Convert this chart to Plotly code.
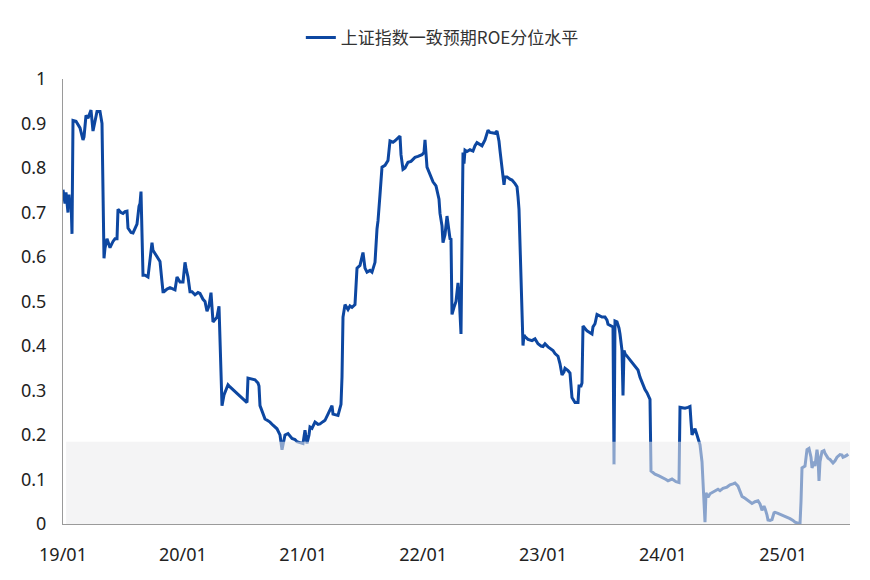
import datetime as dt
import plotly.graph_objects as go

# months elapsed since 2019-01-01
months = [
    0.0, 0.2, 0.3, 0.5, 0.6, 0.7, 0.8, 0.9, 1.0, 1.3, 1.7, 2.0, 2.1, 2.3, 2.5, 2.8, 3.0, 3.2, 3.4, 3.7,
    3.9, 4.1, 4.2, 4.4, 4.7, 5.0, 5.2, 5.4, 5.5, 5.8, 6.0, 6.2, 6.4, 6.5, 6.8, 7.0, 7.4, 7.6, 7.7, 7.8,
    7.9, 8.0, 8.2, 8.5, 8.9, 9.0, 9.2, 9.5, 9.7, 9.9, 10.0, 10.1, 10.4, 10.7, 11.0, 11.2, 11.4, 11.7, 12.0, 12.2,
    12.3, 12.5, 12.7, 12.9, 13.2, 13.5, 13.7, 14.0, 14.2, 14.4, 14.6, 14.8, 15.0, 15.2, 15.4, 15.6, 15.7, 15.9, 16.1, 16.3,
    16.5, 16.7, 17.0, 17.7, 18.4, 18.5, 18.9, 19.2, 19.5, 19.6, 19.7, 20.0, 20.2, 20.5, 20.7, 21.0, 21.4, 21.6, 21.7, 21.9,
    22.1, 22.2, 22.5, 22.9, 23.2, 23.4, 23.7, 24.0, 24.2, 24.4, 24.6, 24.7, 24.9, 25.2, 25.5, 25.7, 26.0, 26.2, 26.5, 26.7,
    26.9, 27.0, 27.3, 27.5, 27.8, 27.9, 28.0, 28.2, 28.5, 28.7, 28.9, 29.2, 29.4, 29.7, 30.0, 30.1, 30.2, 30.4, 30.7, 30.9,
    31.2, 31.4, 31.5, 31.7, 31.9, 32.2, 32.5, 32.7, 33.0, 33.2, 33.5, 33.7, 33.8, 34.0, 34.2, 34.5, 34.8, 35.2, 35.5, 35.7,
    35.9, 36.1, 36.2, 36.4, 36.7, 37.0, 37.3, 37.4, 37.6, 37.7, 37.9, 38.0, 38.2, 38.4, 38.6, 38.7, 38.8, 38.9, 39.1, 39.3,
    39.5, 39.6, 39.8, 40.0, 40.1, 40.2, 40.4, 40.7, 41.0, 41.2, 41.4, 41.7, 41.9, 42.2, 42.5, 42.7, 43.0, 43.2, 43.4, 43.6,
    43.7, 43.9, 44.1, 44.2, 44.4, 44.7, 44.9, 45.2, 45.4, 45.5, 45.6, 46.0, 46.1, 46.2, 46.5, 46.9, 47.2, 47.5, 47.8, 48.0,
    48.2, 48.5, 48.7, 49.0, 49.2, 49.5, 49.7, 49.9, 50.1, 50.2, 50.5, 50.7, 50.9, 51.2, 51.5, 51.6, 51.8, 51.9, 52.0, 52.2,
    52.4, 52.7, 52.9, 53.0, 53.2, 53.4, 53.7, 53.9, 54.2, 54.4, 54.5, 54.8, 55.0, 55.1, 55.2, 55.4, 55.6, 55.7, 55.8, 55.9,
    56.0, 56.1, 56.2, 56.5, 56.7, 57.0, 57.2, 57.5, 57.7, 57.9, 58.2, 58.4, 58.7, 58.8, 59.2, 59.6, 60.0, 60.3, 60.5, 60.9,
    61.3, 61.6, 61.7, 62.0, 62.2, 62.5, 62.7, 62.8, 62.9, 63.1, 63.2, 63.4, 63.5, 63.7, 63.9, 64.0, 64.2, 64.3, 64.5, 64.7,
    65.0, 65.2, 65.5, 65.7, 66.0, 66.4, 66.7, 67.0, 67.2, 67.5, 67.7, 67.9, 68.2, 68.5, 68.9, 69.2, 69.5, 69.7, 69.9, 70.1,
    70.2, 70.4, 70.5, 70.7, 70.9, 71.1, 71.2, 71.5, 71.7, 72.0, 72.4, 72.7, 73.0, 73.2, 73.5, 73.7, 73.8, 73.9, 74.2, 74.4,
    74.6, 74.8, 74.9, 75.1, 75.2, 75.4, 75.5, 75.6, 75.7, 75.9, 76.1, 76.2, 76.5, 76.7, 77.0, 77.2, 77.4, 77.7, 77.9, 78.0,
    78.2, 78.4, 78.5,
]

roe_pct = [
    0.751, 0.72, 0.745, 0.70, 0.74, 0.71, 0.73, 0.652, 0.907, 0.905, 0.89, 0.863, 0.87, 0.918, 0.912, 0.93, 0.883, 0.91, 0.927, 0.927,
    0.90, 0.597, 0.62, 0.641, 0.621, 0.635, 0.641, 0.641, 0.707, 0.70, 0.698, 0.702, 0.703, 0.665, 0.655, 0.654, 0.674, 0.714, 0.72, 0.747,
    0.597, 0.559, 0.559, 0.555, 0.632, 0.615, 0.608, 0.597, 0.59, 0.544, 0.522, 0.522, 0.528, 0.531, 0.528, 0.526, 0.555, 0.544, 0.544, 0.588,
    0.575, 0.555, 0.522, 0.522, 0.515, 0.52, 0.518, 0.505, 0.50, 0.478, 0.49, 0.52, 0.454, 0.46, 0.465, 0.489, 0.427, 0.266, 0.29, 0.302,
    0.313, 0.308, 0.302, 0.288, 0.273, 0.328, 0.326, 0.324, 0.317, 0.31, 0.266, 0.245, 0.236, 0.232, 0.229, 0.222, 0.214, 0.205, 0.2, 0.167,
    0.19, 0.2, 0.203, 0.192, 0.19, 0.185, 0.183, 0.181, 0.211, 0.181, 0.20, 0.218, 0.215, 0.229, 0.224, 0.225, 0.23, 0.233, 0.247, 0.255,
    0.266, 0.247, 0.245, 0.244, 0.269, 0.33, 0.465, 0.493, 0.482, 0.49, 0.487, 0.493, 0.575, 0.581, 0.61, 0.59, 0.575, 0.566, 0.57, 0.566,
    0.588, 0.663, 0.681, 0.74, 0.802, 0.806, 0.817, 0.861, 0.858, 0.861, 0.868, 0.872, 0.83, 0.797, 0.80, 0.813, 0.815, 0.824, 0.826, 0.828,
    0.83, 0.835, 0.863, 0.802, 0.784, 0.769, 0.76, 0.747, 0.73, 0.698, 0.67, 0.632, 0.65, 0.692, 0.66, 0.641, 0.64, 0.471, 0.487, 0.50,
    0.542, 0.52, 0.427, 0.835, 0.81, 0.84, 0.837, 0.841, 0.838, 0.85, 0.857, 0.852, 0.85, 0.863, 0.885, 0.88, 0.879, 0.878, 0.883, 0.86,
    0.839, 0.795, 0.762, 0.78, 0.78, 0.775, 0.773, 0.765, 0.758, 0.736, 0.707, 0.401, 0.425, 0.421, 0.415, 0.412, 0.416, 0.405, 0.40, 0.399,
    0.405, 0.398, 0.394, 0.39, 0.383, 0.377, 0.36, 0.335, 0.342, 0.35, 0.345, 0.339, 0.284, 0.273, 0.273, 0.31, 0.31, 0.317, 0.445, 0.44,
    0.434, 0.43, 0.427, 0.443, 0.45, 0.471, 0.468, 0.465, 0.465, 0.458, 0.449, 0.445, 0.443, 0.134, 0.456, 0.454, 0.44, 0.427, 0.41, 0.39,
    0.289, 0.39, 0.383, 0.375, 0.368, 0.36, 0.355, 0.346, 0.33, 0.317, 0.302, 0.295, 0.28, 0.119, 0.112, 0.108, 0.104, 0.10, 0.097, 0.101,
    0.095, 0.093, 0.262, 0.26, 0.26, 0.262, 0.264, 0.23, 0.2, 0.21, 0.214, 0.2, 0.192, 0.178, 0.14, 0.097, 0.004, 0.07, 0.06, 0.068,
    0.072, 0.075, 0.078, 0.075, 0.08, 0.083, 0.088, 0.09, 0.092, 0.085, 0.075, 0.062, 0.058, 0.052, 0.046, 0.05, 0.052, 0.045, 0.031, 0.04,
    0.035, 0.02, 0.009, 0.008, 0.01, 0.025, 0.026, 0.024, 0.022, 0.02, 0.015, 0.012, 0.008, 0.004, 0.002, 0.0, 0.05, 0.126, 0.13, 0.167,
    0.17, 0.15, 0.126, 0.14, 0.13, 0.167, 0.15, 0.097, 0.14, 0.163, 0.165, 0.159, 0.148, 0.145, 0.137, 0.142, 0.15, 0.156, 0.155, 0.15,
    0.152, 0.155, 0.152,
]

tick_dates = ["2019-01-01", "2020-01-01", "2021-01-01", "2022-01-01", "2023-01-01", "2024-01-01", "2025-01-01"]
tick_labels = ["19/01", "20/01", "21/01", "22/01", "23/01", "24/01", "25/01"]
y_ticks = [0, 0.1, 0.2, 0.3, 0.4, 0.5, 0.6, 0.7, 0.8, 0.9, 1]
series_name = "上证指数一致预期ROE分位水平"
band_top = 0.185

base = dt.datetime(2019, 1, 1)
dates = [base + dt.timedelta(days=m * 30.4375) for m in months]

fig = go.Figure()
fig.add_trace(go.Scatter(
    x=dates, y=roe_pct, mode="lines", name=series_name,
    line=dict(color="#0D47A1", width=3),
))

fig.add_shape(
    type="rect", xref="paper", yref="y",
    x0=0.004, x1=1.0, y0=0, y1=band_top,
    fillcolor="rgba(235,235,238,0.56)", line=dict(width=0), layer="above",
)

# page body has an 8px default margin, so the figure is offset by 8px
fig.update_layout(
    width=854, height=564,
    margin=dict(l=55, r=12, t=62, b=48),
    paper_bgcolor="white", plot_bgcolor="white",
    font=dict(family="Noto Sans, Noto Sans CJK SC, sans-serif", color="#222", size=18),
    showlegend=True,
    legend=dict(
        orientation="h", x=0.482, xanchor="center", y=1.0925, yanchor="middle",
        font=dict(size=17, color="#333", family="Noto Sans CJK SC, sans-serif"),
        bgcolor="rgba(0,0,0,0)",
    ),
    xaxis=dict(
        type="date", automargin=False,
        range=[base, base + dt.timedelta(days=78.7 * 30.4375)],
        tickvals=tick_dates, ticktext=tick_labels,
        showgrid=False, zeroline=False,
        showline=True, linecolor="#9a9a9a", linewidth=1,
        ticks="", ticklabelstandoff=14,
        tickfont=dict(size=18, color="#222"),
    ),
    yaxis=dict(
        range=[0, 1], automargin=False,
        tickvals=y_ticks,
        showgrid=False, zeroline=False,
        showline=True, linecolor="#9a9a9a", linewidth=1,
        ticks="", ticklabelstandoff=12,
        tickfont=dict(size=18, color="#222"),
    ),
)

fig.write_html("out.html")
